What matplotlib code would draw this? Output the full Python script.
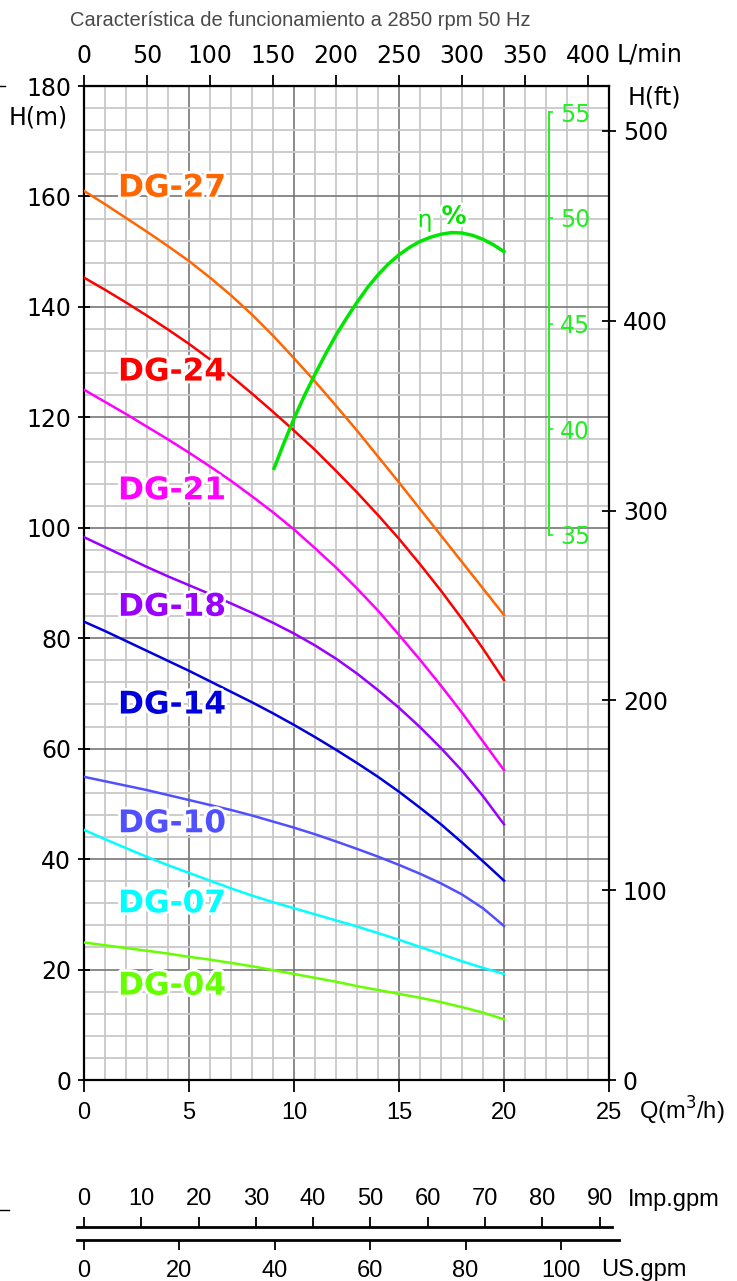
import matplotlib
matplotlib.use("Agg")
import matplotlib.pyplot as plt
import matplotlib.patheffects as pe
from matplotlib.ticker import MultipleLocator
from matplotlib.lines import Line2D

# flow rate points (m3/h) and head curves (m)
flow = list(range(0, 21))
dg27 = [161.0, 158.6, 156.1, 153.6, 151.0, 148.3, 145.3, 142.1, 138.6, 134.8, 130.7,
        126.5, 122.1, 117.6, 112.9, 108.2, 103.4, 98.6, 93.8, 89.0, 84.2]
dg24 = [145.3, 143.1, 140.8, 138.4, 135.9, 133.3, 130.5, 127.5, 124.3, 121.0, 117.6,
        114.1, 110.3, 106.4, 102.3, 98.0, 93.4, 88.6, 83.5, 78.1, 72.4]
dg21 = [125.0, 122.8, 120.6, 118.3, 116.0, 113.6, 111.1, 108.5, 105.7, 102.8, 99.7,
        96.3, 92.8, 89.0, 85.0, 80.6, 76.1, 71.4, 66.5, 61.3, 56.1]
dg18 = [98.3, 96.5, 94.7, 92.9, 91.2, 89.6, 88.0, 86.3, 84.6, 82.8, 80.85,
        78.7, 76.3, 73.6, 70.6, 67.4, 63.9, 60.1, 56.0, 51.4, 46.3]
dg14 = [83.0, 81.3, 79.5, 77.7, 75.9, 74.1, 72.2, 70.3, 68.4, 66.4, 64.3,
        62.1, 59.8, 57.4, 54.9, 52.2, 49.3, 46.3, 43.0, 39.6, 36.1]
dg10 = [54.9, 54.1, 53.3, 52.5, 51.6, 50.7, 49.8, 48.9, 47.9, 46.8, 45.7,
        44.5, 43.2, 41.85, 40.45, 38.95, 37.35, 35.6, 33.6, 31.1, 27.9]
dg07 = [45.3, 43.6, 42.0, 40.4, 38.9, 37.5, 36.1, 34.7, 33.4, 32.2, 31.1,
        30.0, 28.9, 27.8, 26.6, 25.4, 24.1, 22.8, 21.5, 20.3, 19.2]
dg04 = [24.9, 24.4, 23.9, 23.4, 22.9, 22.3, 21.8, 21.2, 20.6, 19.9, 19.2,
        18.5, 17.8, 17.0, 16.3, 15.6, 14.9, 14.1, 13.2, 12.2, 11.0]

models = ["DG-27", "DG-24", "DG-21", "DG-18", "DG-14", "DG-10", "DG-07", "DG-04"]
heads = [dg27, dg24, dg21, dg18, dg14, dg10, dg07, dg04]
colors = ["#ff6600", "#ff0000", "#ff00ff", "#9900ff", "#0000dd", "#5050ff", "#00ffff", "#66ff00"]
label_h = [161.5, 128.2, 106.7, 85.6, 67.9, 46.4, 31.9, 17.0]

# efficiency curve (%)
eff_q = [9.05, 9.5, 10, 10.5, 11, 11.5, 12, 12.5, 13, 13.5, 14, 14.5, 15, 15.5,
         16, 16.5, 17, 17.5, 18, 18.5, 19, 19.5, 20]
eff_v = [38.15, 39.3, 40.5, 41.6, 42.6, 43.55, 44.45, 45.25, 46.0, 46.7, 47.3, 47.82, 48.25, 48.6,
         48.88, 49.08, 49.22, 49.3, 49.28, 49.17, 48.98, 48.72, 48.4]

lpm_ticks = list(range(0, 401, 50))
ft_ticks = list(range(0, 501, 100))
eff_ticks = [35, 40, 45, 50, 55]
imp_ticks = list(range(0, 91, 10))
us_ticks = list(range(0, 101, 20))

W, H = 737, 1281
GREEN = "#00e600"
EFF_AX = "#22ee22"

def fx(px):
    return px / W

def fy(py):
    return 1 - py / H

fig = plt.figure(figsize=(W / 100, H / 100), dpi=100)
ax = fig.add_axes([fx(84), fy(1080), 525 / W, 994 / H])
ax.set_xlim(0, 25)
ax.set_ylim(0, 180)
ax.xaxis.set_major_locator(MultipleLocator(5))
ax.xaxis.set_minor_locator(MultipleLocator(1))
ax.yaxis.set_major_locator(MultipleLocator(20))
ax.yaxis.set_minor_locator(MultipleLocator(4))
ax.grid(which="minor", color="#c8c8c8", lw=1.3)
ax.grid(which="major", color="#777777", lw=1.2)
ax.set_axisbelow(True)
for s in ax.spines.values():
    s.set_linewidth(1.6)
ax.tick_params(which="minor", length=0)
ax.tick_params(axis="x", which="major", direction="out", length=8.5, width=1.3,
               pad=7, labelsize=17, labelfontfamily="Liberation Sans")
ax.tick_params(axis="y", which="major", direction="inout", length=8.5, width=1.3,
               pad=5, labelsize=17)

for name, h, c in zip(models, heads, colors):
    ax.plot(flow, h, color=c, lw=1.8, zorder=3)
for name, c, yh in zip(models, colors, label_h):
    ax.text(1.62, yh, name, color=c, fontsize=22.5, fontweight="bold",
            ha="left", va="center", zorder=5,
            path_effects=[pe.withStroke(linewidth=4, foreground="white")])

# top L/min axis
sec = ax.secondary_xaxis("top", functions=(lambda q: q * 1000 / 60, lambda l: l * 60 / 1000))
sec.set_xticks(lpm_ticks)
sec.tick_params(direction="out", length=8, width=1.3, pad=5, labelsize=17)

# right H(ft) axis
axr = ax.twinx()
axr.set_ylim(0, 523.7)
axr.set_yticks(ft_ticks)
axr.tick_params(axis="y", direction="inout", length=10, width=1.3, pad=5, labelsize=17)
for s in axr.spines.values():
    s.set_visible(False)

# efficiency axis
axe = ax.twinx()
axe.set_ylim(9.23, 56.23)
for k, s in axe.spines.items():
    s.set_visible(k == "right")
axe.spines["right"].set_position(("axes", (549 - 84) / 525))
axe.spines["right"].set_bounds(35, 55)
axe.spines["right"].set_color(EFF_AX)
axe.spines["right"].set_linewidth(1.4)
axe.set_yticks(eff_ticks)
axe.tick_params(axis="y", direction="out", length=3, width=1.2, color=EFF_AX,
                labelcolor=EFF_AX, pad=5, labelsize=17)
axe.plot(eff_q, eff_v, color=GREEN, lw=2.5, zorder=4)
axe.text(16.24, 49.9, "η", color=GREEN, fontsize=17, ha="center", va="center",
         path_effects=[pe.withStroke(linewidth=4, foreground="white")])
axe.text(17.62, 50.05, "%", color=GREEN, fontsize=18, fontweight="bold", ha="center", va="center",
         path_effects=[pe.withStroke(linewidth=4, foreground="white")])

# unit labels
fig.text(fx(38), fy(117), "H(m)", fontsize=17, ha="center", va="center")
fig.text(fx(628), fy(97), "H(ft)", fontsize=17, ha="left", va="center")
fig.text(fx(617), fy(55), "L/min", fontsize=17, ha="left", va="center")
fig.text(fx(639), fy(1111), "Q(m$^3$/h)", fontsize=17, ha="left", va="center",
         family="Liberation Sans")
fig.text(fx(300), fy(20), "Característica de funcionamiento a 2850 rpm 50 Hz",
         fontsize=14.5, color="#4a4a4a", ha="center", va="center",
         family=["Liberation Sans Narrow", "Liberation Sans"])

# Imp.gpm scale
k_imp = 1 / (21 * 0.272765)
ax_imp = fig.add_axes([fx(77), fy(1227), (612 - 77) / W, 0.0001])
ax_imp.set_xlim(-7 * k_imp, 528 * k_imp)
ax_imp.set_facecolor("none")
for k, s in ax_imp.spines.items():
    s.set_visible(k == "top")
ax_imp.spines["top"].set_linewidth(2.0)
ax_imp.set_yticks([])
ax_imp.xaxis.tick_top()
ax_imp.set_xticks(imp_ticks)
ax_imp.tick_params(axis="x", direction="out", length=7.5, width=1.3, pad=5,
                   labelsize=17, labelfontfamily="Liberation Sans")
fig.text(fx(628), fy(1200), "Imp.gpm", fontsize=17, ha="left", va="center",
         family="Liberation Sans")

# US.gpm scale
k_us = 1 / (21 * 0.227125)
ax_us = fig.add_axes([fx(77), fy(1240), (619 - 77) / W, 0.0001])
ax_us.set_xlim(-7 * k_us, 535 * k_us)
ax_us.set_facecolor("none")
for k, s in ax_us.spines.items():
    s.set_visible(k == "bottom")
ax_us.spines["bottom"].set_linewidth(2.0)
ax_us.set_yticks([])
ax_us.set_xticks(us_ticks)
ax_us.tick_params(axis="x", direction="out", length=7.5, width=1.3, pad=7,
                  labelsize=17, labelfontfamily="Liberation Sans")
fig.text(fx(601), fy(1270), "US.gpm", fontsize=17, ha="left", va="center",
         family="Liberation Sans")

# small marks at left edge
fig.add_artist(Line2D([0, fx(5)], [fy(86), fy(86)], color="black", lw=1))
fig.add_artist(Line2D([0, fx(9)], [fy(1210), fy(1210)], color="black", lw=1))

fig.savefig("out.png", dpi=100)
